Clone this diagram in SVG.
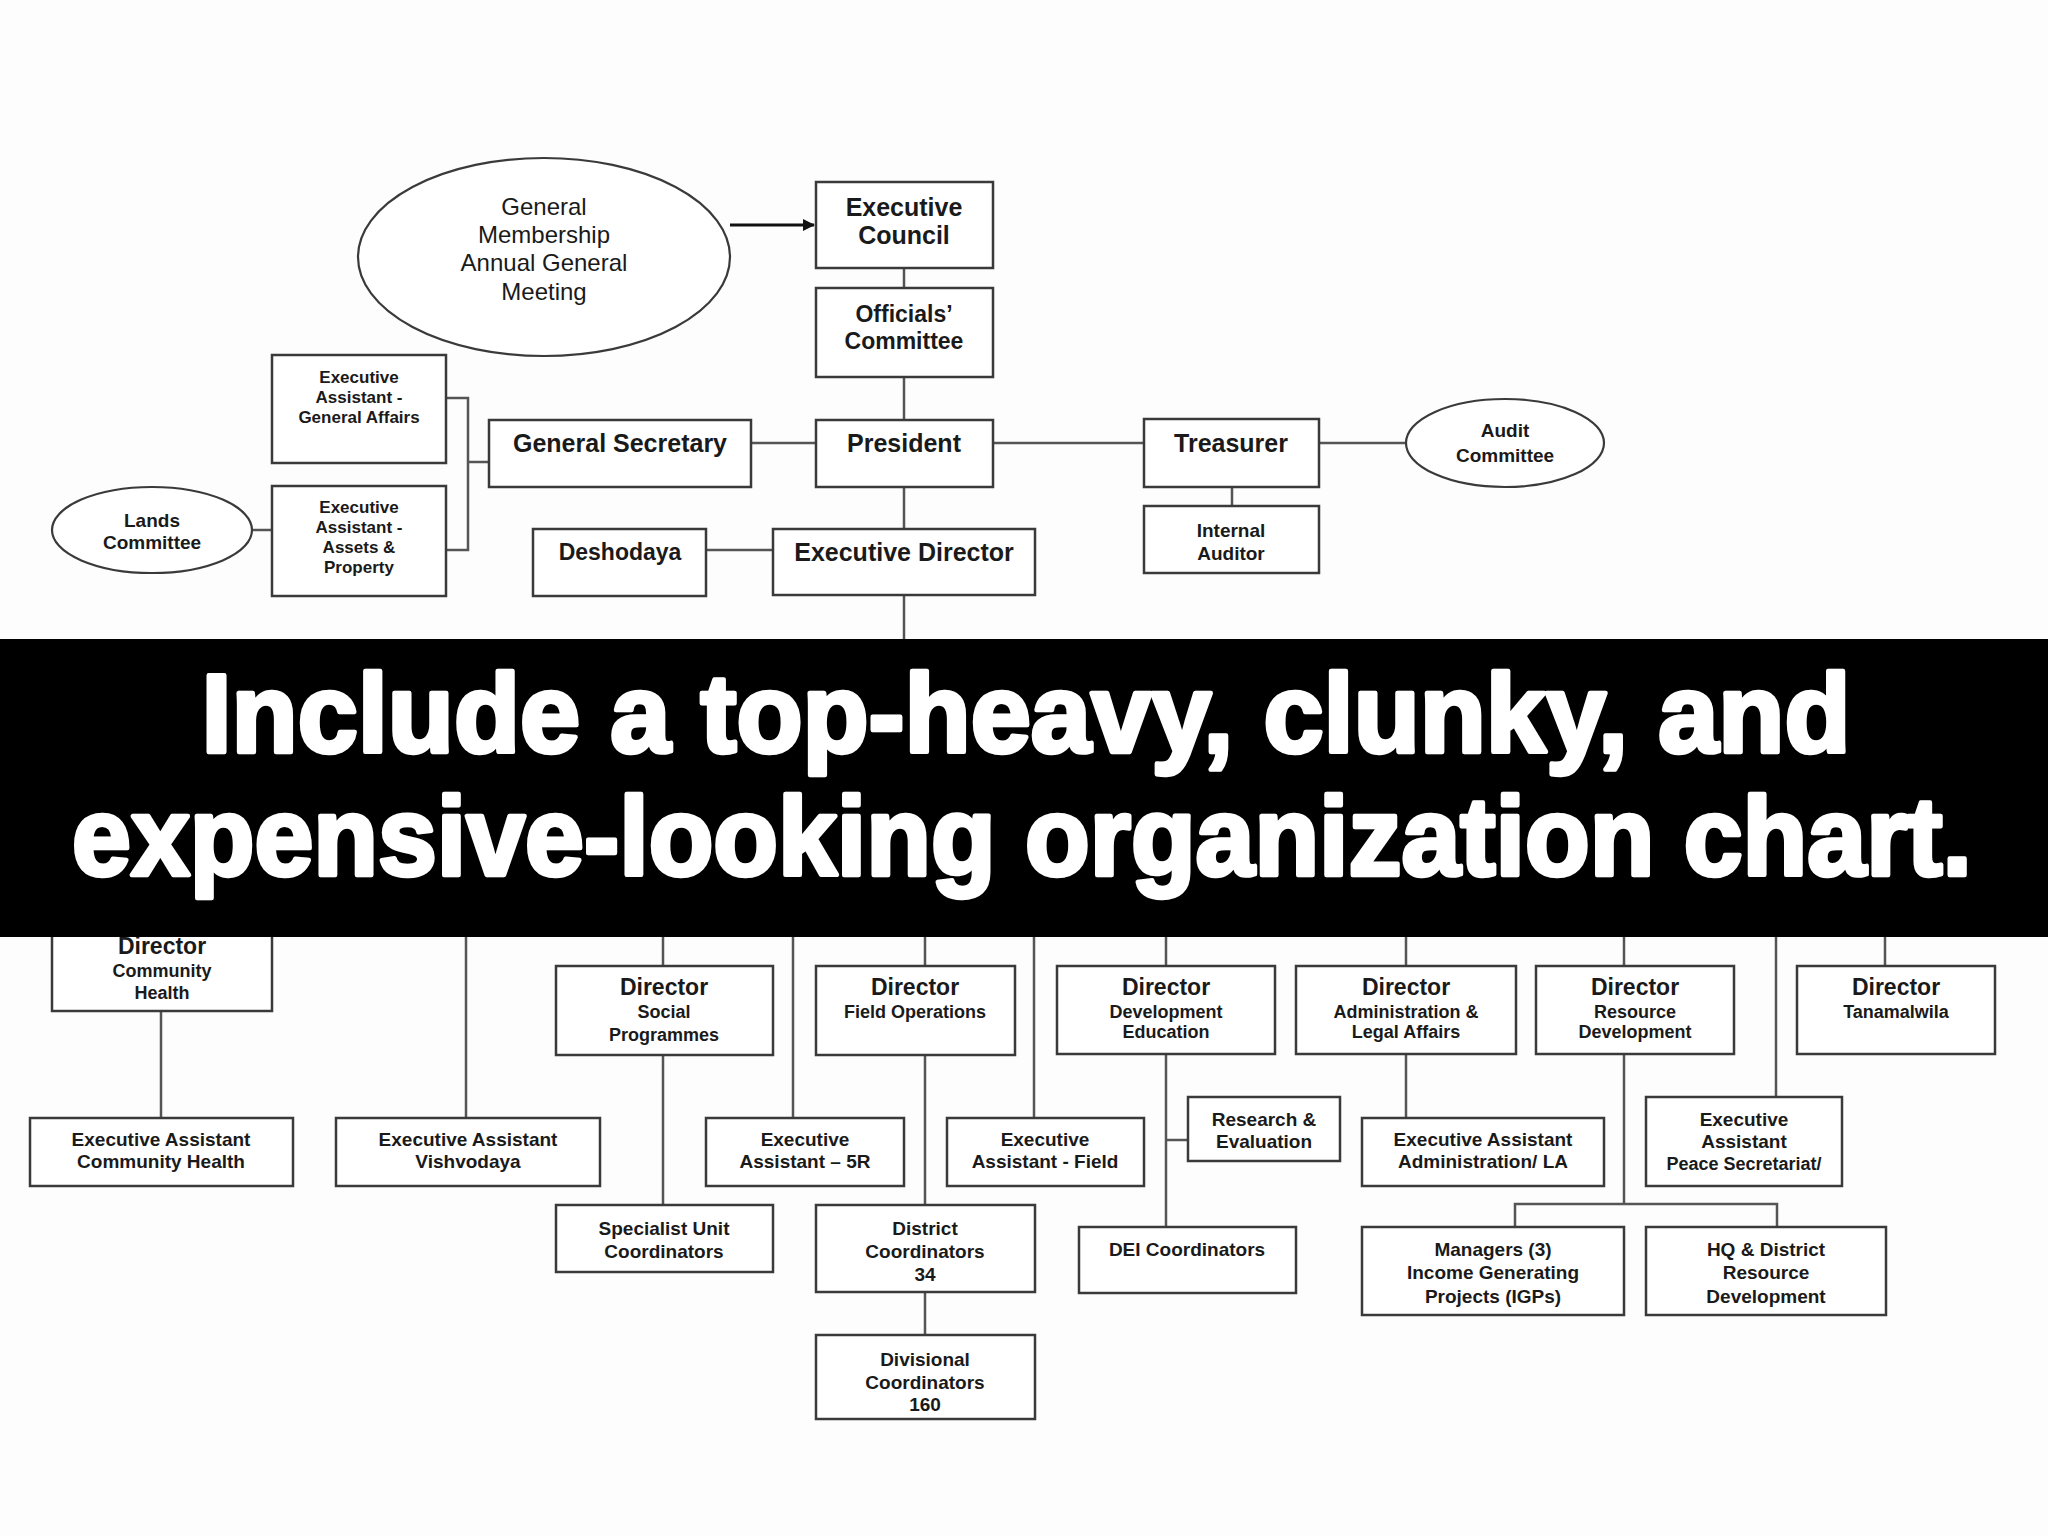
<svg xmlns="http://www.w3.org/2000/svg" width="2048" height="1536" viewBox="0 0 2048 1536">
<defs>
<style>
.box{fill:#fff;stroke:#3a3a3a;stroke-width:2.5}
.ell{fill:#fff;stroke:#3a3a3a;stroke-width:2.2}
.con{fill:none;stroke:#555;stroke-width:2.5}
text{font-family:"Liberation Sans",Arial,sans-serif;fill:#1a1a1a;text-anchor:middle}
.r24{font-size:24px}
.b25{font-size:25px;font-weight:bold}
.b23{font-size:23px;font-weight:bold}
.b19{font-size:19px;font-weight:bold}
.b18{font-size:18px;font-weight:bold}
.b17{font-size:17px;font-weight:bold}
.ban{font-size:112px;font-weight:bold;fill:#fff;stroke:#fff;stroke-width:4.5;stroke-linejoin:round}
</style>
<marker id="arr" markerWidth="12" markerHeight="12" refX="11" refY="6" orient="auto" markerUnits="userSpaceOnUse">
<path d="M0,0 L12,6 L0,12 z" fill="#111"/>
</marker>
</defs>
<rect width="2048" height="1536" fill="#fdfdfd"/>

<g id="connectors">
<path d="M730,225 H814" fill="none" stroke="#111" stroke-width="3" marker-end="url(#arr)"/>
<path class="con" d="M904,268 V288 M904,377 V420 M904,487 V529 M904,595 V640"/>
<path class="con" d="M751,443 H816 M993,443 H1144 M1319,443 H1406 M1232,487 V506"/>
<path class="con" d="M706,550 H773"/>
<path class="con" d="M446,398 H468 V550 H446 M468,462 H489 M252,530 H272"/>
<path class="con" d="M466,936 V1118 M663,936 V966 M793,936 V1118 M925,936 V966 M1034,936 V1118 M1166,936 V966 M1406,936 V966 M1624,936 V966 M1776,936 V1097 M1885,936 V966"/>
<path class="con" d="M161,1011 V1118 M663,1055 V1205 M925,1055 V1205 M925,1292 V1335"/>
<path class="con" d="M1166,1054 V1227 M1166,1140 H1188 M1406,1054 V1118"/>
<path class="con" d="M1624,1054 V1204 M1515,1227 V1204 H1777 V1227"/>
</g>

<g id="gm-agm"><ellipse class="ell" cx="544" cy="257" rx="186" ry="99"/>
<text class="r24" x="544" y="215">General</text><text class="r24" x="544" y="243">Membership</text><text class="r24" x="544" y="271">Annual General</text><text class="r24" x="544" y="300">Meeting</text></g>
<g id="executive-council"><rect class="box" x="816" y="182" width="177" height="86"/>
<text class="b25" x="904" y="216">Executive</text><text class="b25" x="904" y="244">Council</text></g>
<g id="officials-committee"><rect class="box" x="816" y="288" width="177" height="89"/>
<text class="b23" x="904" y="322">Officials’</text><text class="b23" x="904" y="349">Committee</text></g>
<g id="president"><rect class="box" x="816" y="420" width="177" height="67"/>
<text class="b25" x="904" y="452">President</text></g>
<g id="general-secretary"><rect class="box" x="489" y="420" width="262" height="67"/>
<text class="b25" x="620" y="452">General Secretary</text></g>
<g id="ea-general-affairs"><rect class="box" x="272" y="355" width="174" height="108"/>
<text class="b17" x="359" y="383">Executive</text><text class="b17" x="359" y="403">Assistant -</text><text class="b17" x="359" y="423">General Affairs</text></g>
<g id="ea-assets"><rect class="box" x="272" y="486" width="174" height="110"/>
<text class="b17" x="359" y="513">Executive</text><text class="b17" x="359" y="533">Assistant -</text><text class="b17" x="359" y="553">Assets &amp;</text><text class="b17" x="359" y="573">Property</text></g>
<g id="lands-committee"><ellipse class="ell" cx="152" cy="530" rx="100" ry="43"/>
<text class="b19" x="152" y="527">Lands</text><text class="b19" x="152" y="549">Committee</text></g>
<g id="deshodaya"><rect class="box" x="533" y="529" width="173" height="67"/>
<text class="b23" x="620" y="560">Deshodaya</text></g>
<g id="executive-director"><rect class="box" x="773" y="529" width="262" height="66"/>
<text class="b25" x="904" y="561">Executive Director</text></g>
<g id="treasurer"><rect class="box" x="1144" y="419" width="175" height="68"/>
<text class="b25" x="1231" y="452">Treasurer</text></g>
<g id="audit-committee"><ellipse class="ell" cx="1505" cy="443" rx="99" ry="44"/>
<text class="b19" x="1505" y="437">Audit</text><text class="b19" x="1505" y="462">Committee</text></g>
<g id="internal-auditor"><rect class="box" x="1144" y="506" width="175" height="67"/>
<text class="b19" x="1231" y="537">Internal</text><text class="b19" x="1231" y="560">Auditor</text></g>

<g id="dir-community-health"><rect class="box" x="52" y="900" width="220" height="111"/>
<text class="b23" x="162" y="954">Director</text><text class="b18" x="162" y="977">Community</text><text class="b18" x="162" y="999">Health</text></g>
<g id="ea-community-health"><rect class="box" x="30" y="1118" width="263" height="68"/>
<text class="b19" x="161" y="1146">Executive Assistant</text><text class="b19" x="161" y="1168">Community Health</text></g>
<g id="ea-vishvodaya"><rect class="box" x="336" y="1118" width="264" height="68"/>
<text class="b19" x="468" y="1146">Executive Assistant</text><text class="b19" x="468" y="1168">Vishvodaya</text></g>
<g id="dir-social"><rect class="box" x="556" y="966" width="217" height="89"/>
<text class="b23" x="664" y="995">Director</text><text class="b18" x="664" y="1018">Social</text><text class="b18" x="664" y="1041">Programmes</text></g>
<g id="specialist-unit"><rect class="box" x="556" y="1205" width="217" height="67"/>
<text class="b19" x="664" y="1235">Specialist Unit</text><text class="b19" x="664" y="1258">Coordinators</text></g>
<g id="ea-5r"><rect class="box" x="706" y="1118" width="198" height="68"/>
<text class="b19" x="805" y="1146">Executive</text><text class="b19" x="805" y="1168">Assistant – 5R</text></g>
<g id="dir-field"><rect class="box" x="816" y="966" width="199" height="89"/>
<text class="b23" x="915" y="995">Director</text><text class="b18" x="915" y="1018">Field Operations</text></g>
<g id="district-coordinators"><rect class="box" x="816" y="1205" width="219" height="87"/>
<text class="b19" x="925" y="1235">District</text><text class="b19" x="925" y="1258">Coordinators</text><text class="b19" x="925" y="1281">34</text></g>
<g id="divisional-coordinators"><rect class="box" x="816" y="1335" width="219" height="84"/>
<text class="b19" x="925" y="1366">Divisional</text><text class="b19" x="925" y="1389">Coordinators</text><text class="b19" x="925" y="1411">160</text></g>
<g id="ea-field"><rect class="box" x="947" y="1118" width="197" height="68"/>
<text class="b19" x="1045" y="1146">Executive</text><text class="b19" x="1045" y="1168">Assistant - Field</text></g>
<g id="dir-dev-education"><rect class="box" x="1057" y="966" width="218" height="88"/>
<text class="b23" x="1166" y="995">Director</text><text class="b18" x="1166" y="1018">Development</text><text class="b18" x="1166" y="1038">Education</text></g>
<g id="research-evaluation"><rect class="box" x="1188" y="1097" width="152" height="64"/>
<text class="b19" x="1264" y="1126">Research &amp;</text><text class="b19" x="1264" y="1148">Evaluation</text></g>
<g id="dei-coordinators"><rect class="box" x="1079" y="1227" width="217" height="66"/>
<text class="b19" x="1187" y="1256">DEI Coordinators</text></g>
<g id="dir-admin"><rect class="box" x="1296" y="966" width="220" height="88"/>
<text class="b23" x="1406" y="995">Director</text><text class="b18" x="1406" y="1018">Administration &amp;</text><text class="b18" x="1406" y="1038">Legal Affairs</text></g>
<g id="ea-admin"><rect class="box" x="1362" y="1118" width="242" height="68"/>
<text class="b19" x="1483" y="1146">Executive Assistant</text><text class="b19" x="1483" y="1168">Administration/ LA</text></g>
<g id="dir-resource"><rect class="box" x="1536" y="966" width="198" height="88"/>
<text class="b23" x="1635" y="995">Director</text><text class="b18" x="1635" y="1018">Resource</text><text class="b18" x="1635" y="1038">Development</text></g>
<g id="managers-igp"><rect class="box" x="1362" y="1227" width="262" height="88"/>
<text class="b19" x="1493" y="1256">Managers (3)</text><text class="b19" x="1493" y="1279">Income Generating</text><text class="b19" x="1493" y="1303">Projects (IGPs)</text></g>
<g id="hq-district"><rect class="box" x="1646" y="1227" width="240" height="88"/>
<text class="b19" x="1766" y="1256">HQ &amp; District</text><text class="b19" x="1766" y="1279">Resource</text><text class="b19" x="1766" y="1303">Development</text></g>
<g id="ea-peace"><rect class="box" x="1646" y="1097" width="196" height="89"/>
<text class="b19" x="1744" y="1126">Executive</text><text class="b19" x="1744" y="1148">Assistant</text><text class="b18" x="1744" y="1170">Peace Secretariat/</text></g>
<g id="dir-tanamalwila"><rect class="box" x="1797" y="966" width="198" height="88"/>
<text class="b23" x="1896" y="995">Director</text><text class="b18" x="1896" y="1018">Tanamalwila</text></g>

<g id="banner">
<rect x="0" y="639" width="2048" height="298" fill="#000"/>
<text class="ban" x="1026" y="752" textLength="1649" lengthAdjust="spacingAndGlyphs">Include a top-heavy, clunky, and</text>
<text class="ban" x="1022" y="875" textLength="1900" lengthAdjust="spacingAndGlyphs">expensive-looking organization chart.</text>
</g>
</svg>
